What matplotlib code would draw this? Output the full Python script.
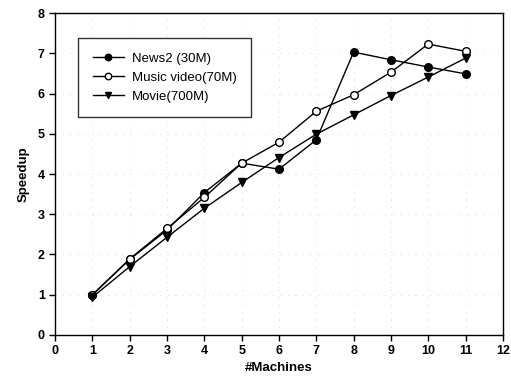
import matplotlib
matplotlib.use("Agg")
import matplotlib.pyplot as plt

machines = [1, 2, 3, 4, 5, 6, 7, 8, 9, 10, 11]
news2 = [1.0, 1.88, 2.61, 3.54, 4.27, 4.12, 4.85, 7.03, 6.84, 6.66, 6.49]
music = [1.0, 1.89, 2.65, 3.42, 4.27, 4.79, 5.56, 5.97, 6.53, 7.23, 7.05]
movie = [0.94, 1.70, 2.43, 3.15, 3.79, 4.41, 4.99, 5.47, 5.95, 6.41, 6.88]
xticks = list(range(0, 13))
yticks = list(range(0, 9))

plt.rcParams['font.family'] = ['Liberation Sans', 'DejaVu Sans']

fig = plt.figure(figsize=(5.11, 3.85), dpi=100)
ax = fig.add_axes([0.108, 0.130, 0.876, 0.836])

ax.plot(machines, news2, color='black', lw=1.0, marker='o', ms=5.5,
        mfc='black', mec='black', label='News2 (30M)')
ax.plot(machines, music, color='black', lw=1.0, marker='o', ms=5.5,
        mfc='white', mec='black', label='Music video(70M)')
ax.plot(machines, movie, color='black', lw=1.0, marker='v', ms=5.5,
        mfc='black', mec='black', label='Movie(700M)')

ax.set_xlim(0, 12)
ax.set_ylim(0, 8)
ax.set_xticks(xticks)
ax.set_yticks(yticks)
ax.tick_params(direction='out', length=4, width=1, labelsize=9)
for lab in ax.get_xticklabels() + ax.get_yticklabels():
    lab.set_fontweight('bold')
ax.grid(True, color='#cccccc', linestyle=(0, (1, 8)), linewidth=0.6)
for s in ax.spines.values():
    s.set_linewidth(1.0)
    s.set_color('black')

ax.set_xlabel('#Machines', fontsize=9.5, fontweight='bold', labelpad=3)
ax.set_ylabel('Speedup', fontsize=9.5, fontweight='bold', labelpad=6)

leg = ax.legend(loc='upper left', bbox_to_anchor=(0.051, 0.922), fontsize=9.5,
                frameon=True, fancybox=False, edgecolor='black',
                borderpad=1.1, handlelength=2.4, labelspacing=0.5,
                handletextpad=0.6, borderaxespad=0, markerscale=0.85)
leg.get_frame().set_linewidth(1.0)

fig.savefig('out.png', dpi=100)
